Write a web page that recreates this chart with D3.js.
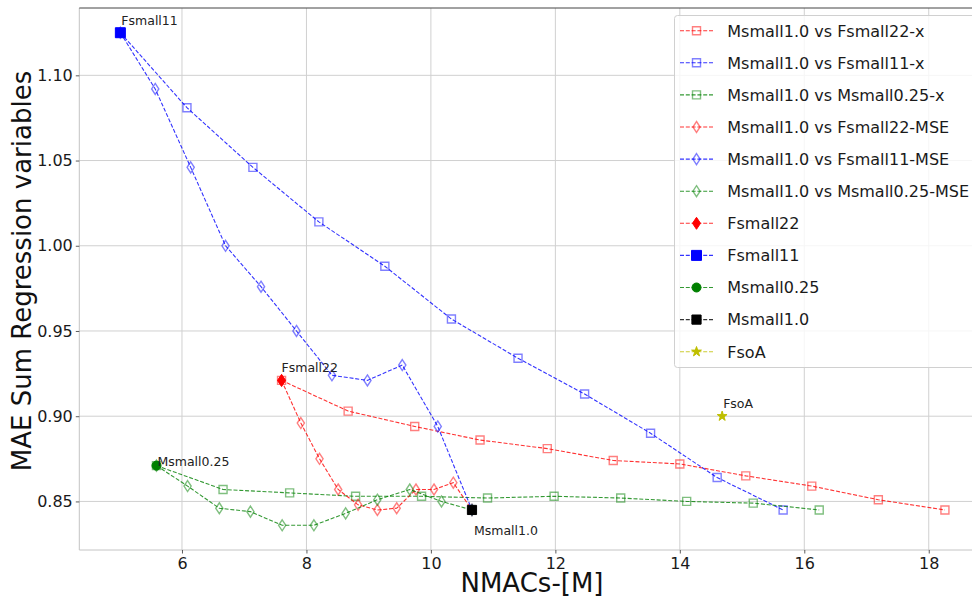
<!DOCTYPE html>
<html><head><meta charset="utf-8">
<script src="https://cdn.jsdelivr.net/npm/d3@7"></script>
<style>
body{margin:0;background:#fff;}
svg{display:block;font-family:"DejaVu Sans",sans-serif;}
</style>
</head><body>
<svg id="c" width="972" height="601"></svg>
<script>
// ---------------- data ----------------
const f22xN  = [7.60, 8.67, 9.74, 10.79, 11.87, 12.93, 14.00, 15.06, 16.12, 17.19, 18.26];
const f22xV  = [0.921, 0.903, 0.894, 0.886, 0.881, 0.874, 0.872, 0.865, 0.859, 0.851, 0.845];
const f11xN  = [5.01, 6.08, 7.14, 8.20, 9.26, 10.33, 11.40, 12.47, 13.53, 14.60, 15.66];
const f11xV  = [1.125, 1.081, 1.046, 1.014, 0.988, 0.957, 0.934, 0.913, 0.890, 0.864, 0.845];
const m025xN = [5.59, 6.66, 7.73, 8.79, 9.85, 10.91, 11.98, 13.05, 14.11, 15.18, 16.24];
const m025xV = [0.871, 0.857, 0.855, 0.853, 0.853, 0.852, 0.853, 0.852, 0.850, 0.849, 0.845];
const f22mN  = [7.60, 7.91, 8.21, 8.51, 8.83, 9.14, 9.45, 9.76, 10.05, 10.36, 10.66];
const f22mV  = [0.921, 0.896, 0.875, 0.857, 0.848, 0.845, 0.846, 0.857, 0.857, 0.861, 0.845];
const f11mN  = [5.01, 5.57, 6.14, 6.70, 7.27, 7.84, 8.41, 8.98, 9.54, 10.11, 10.66];
const f11mV  = [1.125, 1.092, 1.046, 1.000, 0.976, 0.950, 0.924, 0.921, 0.930, 0.894, 0.845];
const m025mN = [5.59, 6.09, 6.60, 7.10, 7.61, 8.12, 8.63, 9.14, 9.66, 10.17, 10.66];
const m025mV = [0.871, 0.859, 0.846, 0.844, 0.836, 0.836, 0.843, 0.851, 0.857, 0.850, 0.845];

const seriesNames = ["Msmall1.0 vs Fsmall22-x", "Msmall1.0 vs Fsmall11-x", "Msmall1.0 vs Msmall0.25-x",
                     "Msmall1.0 vs Fsmall22-MSE", "Msmall1.0 vs Fsmall11-MSE", "Msmall1.0 vs Msmall0.25-MSE"];
const modelNames = ["Fsmall22", "Fsmall11", "Msmall0.25", "Msmall1.0", "FsoA"];
const modelN = [7.60, 5.01, 5.59, 10.66, 14.68];
const modelV = [0.921, 1.125, 0.871, 0.845, 0.900];

const xTicks = [6, 8, 10, 12, 14, 16, 18];
const yTicks = [0.85, 0.90, 0.95, 1.00, 1.05, 1.10];
const xLabel = "NMACs-[M]";
const yLabel = "MAE Sum Regression variables";

// ---------------- styles ----------------
const seriesN = [f22xN, f11xN, m025xN, f22mN, f11mN, m025mN];
const seriesV = [f22xV, f11xV, m025xV, f22mV, f11mV, m025mV];
const seriesColor = ["#ff0000", "#0000ff", "#008000", "#ff0000", "#0000ff", "#008000"];
const seriesMarker = ["sq", "sq", "sq", "dia", "dia", "dia"];
const modelColor = ["#ff0000", "#0000ff", "#008000", "#000000", "#bfbf00"];
const modelMarker = ["fdia", "fsq", "circ", "bsq", "star"];
const annotOffset = [[0, -8], [1, -8], [1, 0], [2, 25], [1, -8]];

const svg = d3.select("#c");
const L = 79.3, R = 986, T = 8, B = 550;
const x = d3.scaleLinear().domain([4.35, 18.92]).range([L, R]);
const y = d3.scaleLinear().domain([0.8215, 1.1395]).range([B, T]);

svg.append("defs").append("clipPath").attr("id", "clip")
  .append("rect").attr("x", L).attr("y", T - 6).attr("width", R - L).attr("height", B - T + 12);

// grid
const g = svg.append("g");
g.selectAll(".gx").data(xTicks).join("line")
  .attr("x1", d => x(d)).attr("x2", d => x(d)).attr("y1", T).attr("y2", B)
  .attr("stroke", "#d0d0d0").attr("stroke-width", 1);
g.selectAll(".gy").data(yTicks).join("line")
  .attr("x1", L).attr("x2", R).attr("y1", d => y(d)).attr("y2", d => y(d))
  .attr("stroke", "#d0d0d0").attr("stroke-width", 1);

// spines
svg.append("line").attr("x1", L).attr("x2", L).attr("y1", T).attr("y2", B).attr("stroke", "#c4c4c4").attr("stroke-width", 1);
svg.append("line").attr("x1", L).attr("x2", R).attr("y1", B).attr("y2", B).attr("stroke", "#c4c4c4").attr("stroke-width", 1);
svg.append("line").attr("x1", L).attr("x2", R).attr("y1", T).attr("y2", T).attr("stroke", "#444").attr("stroke-width", 1);

// axes
const xAxis = d3.axisBottom(x).tickValues(xTicks).tickFormat(d3.format("d")).tickSize(3.5).tickPadding(4);
const yAxis = d3.axisLeft(y).tickValues(yTicks).tickFormat(d3.format(".2f")).tickSize(3.5).tickPadding(3);
const gx = svg.append("g").attr("transform", `translate(0,${B})`).call(xAxis);
const gy = svg.append("g").attr("transform", `translate(${L},0)`).call(yAxis);
[gx, gy].forEach(a => {
  a.select(".domain").remove();
  a.selectAll(".tick line").attr("stroke", "#333").attr("stroke-width", 0.8);
  a.selectAll(".tick text").attr("fill", "#1a1a1a").attr("font-size", "16px").attr("font-family", "DejaVu Sans");
});

svg.append("text").attr("x", 532).attr("y", 592).attr("text-anchor", "middle")
  .attr("font-size", "26px").attr("fill", "#111").text(xLabel);
svg.append("text").attr("transform", "translate(31,271) rotate(-90)").attr("text-anchor", "middle")
  .attr("font-size", "26px").attr("fill", "#111").text(yLabel);

// marker paths
function markerPath(type) {
  switch (type) {
    case "sq": return "M-4,-4H4V4H-4Z";
    case "dia": return "M0,-5.5L3.6,0L0,5.5L-3.6,0Z";
    case "fdia": return "M0,-6L4,0L0,6L-4,0Z";
    case "fsq": return "M-5,-5H5V5H-5Z";
    case "bsq": return "M-4.6,-4.6H4.6V4.6H-4.6Z";
    case "circ": return d3.symbol(d3.symbolCircle, 64)();
    case "star": return d3.symbol(d3.symbolStar, 30)();
  }
}
function drawMarker(sel, type, color) {
  const open = type === "sq" || type === "dia";
  sel.attr("d", markerPath(type))
    .attr("fill", open ? "none" : color)
    .attr("stroke", color)
    .attr("stroke-width", open ? 1.4 : 1)
    .attr("stroke-opacity", open ? 0.5 : 1);
}

const plot = svg.append("g").attr("clip-path", "url(#clip)");
const line = d3.line().x(d => x(d[0])).y(d => y(d[1]));

seriesN.forEach((ns, i) => {
  const pts = ns.map((n, j) => [n, seriesV[i][j]]);
  plot.append("path").datum(pts).attr("d", line)
    .attr("fill", "none").attr("stroke", seriesColor[i]).attr("stroke-width", 1.1)
    .attr("stroke-dasharray", "4,1.8").attr("stroke-opacity", 0.8);
  plot.selectAll(null).data(pts).join("path")
    .attr("transform", d => `translate(${x(d[0])},${y(d[1])})`)
    .call(s => drawMarker(s, seriesMarker[i], seriesColor[i]));
});

// model points
modelN.forEach((n, i) => {
  plot.append("path").attr("transform", `translate(${x(n)},${y(modelV[i])})`)
    .call(s => drawMarker(s, modelMarker[i], modelColor[i]));
  svg.append("text")
    .attr("x", x(n) + annotOffset[i][0]).attr("y", y(modelV[i]) + annotOffset[i][1])
    .attr("font-size", "12.5px").attr("fill", "#222").text(modelNames[i]);
});

// legend
const leg = svg.append("g");
leg.append("rect").attr("x", 674.5).attr("y", 15.5).attr("width", 304).attr("height", 352).attr("rx", 3)
  .attr("fill", "#fff").attr("fill-opacity", 0.8).attr("stroke", "#d0d0d0").attr("stroke-width", 1);
const legNames = seriesNames.concat(modelNames);
const legColor = seriesColor.concat(modelColor);
const legMarker = seriesMarker.concat(modelMarker);
legNames.forEach((name, i) => {
  const cy = 30.7 + i * 32.1;
  leg.append("line").attr("x1", 680).attr("x2", 713).attr("y1", cy).attr("y2", cy)
    .attr("stroke", legColor[i]).attr("stroke-width", 1.1).attr("stroke-dasharray", "4,1.8").attr("stroke-opacity", 0.8);
  leg.append("path").attr("transform", `translate(696.5,${cy})`).call(s => drawMarker(s, legMarker[i], legColor[i]));
  leg.append("text").attr("x", 727.3).attr("y", cy + 5.8).attr("font-size", "16px").attr("fill", "#1a1a1a").text(name);
});
</script>
</body></html>
